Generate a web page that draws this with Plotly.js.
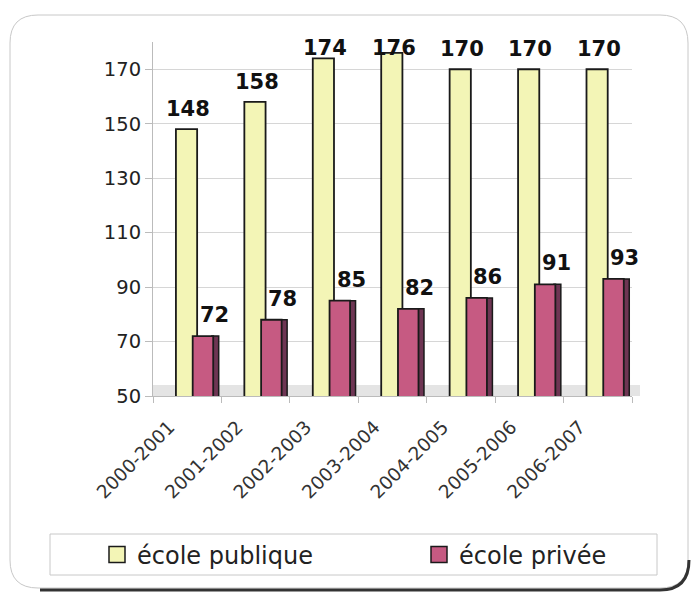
<!DOCTYPE html>
<html>
<head>
<meta charset="utf-8">
<script src="https://cdn.plot.ly/plotly-3.0.1.min.js"></script>
<style>html,body{margin:0;padding:0;background:#fff;}#chart{width:693px;height:596px;}</style>
</head>
<body>
<div id="chart"></div>
<script>
// ---- data ----
const categories = ["2000-2001","2001-2002","2002-2003","2003-2004","2004-2005","2005-2006","2006-2007"];
const ecolePublique = [148,158,174,176,170,170,170];
const ecolePrivee = [72,78,85,82,86,91,93];
const seriesNames = ["école publique","école privée"];
const yTicks = [50,70,90,110,130,150,170];

// ---- layout helpers (pixel -> paper) ----
const W = 693, H = 596;
const L = 153, R = 632, T = 42, B = 396;
const px = x => (x - L) / (R - L);
const py = y => (B - y) / (B - T);

const yellow = "#f3f5b6", pink = "#c65a82", pinkSide = "#6e3553", outline = "#1a1a1a";
const font = "DejaVu Sans, Verdana, sans-serif";
const labelCeiling = 170.5; // Excel keeps data labels inside the plot area

const traces = [
  {type:"bar", x:categories, y:ecolePublique, name:seriesNames[0], showlegend:false,
   width:0.31, offset:-0.165,
   marker:{color:yellow, line:{color:outline, width:1.8}}},
  {type:"bar", x:categories, y:ecolePrivee, name:seriesNames[1]+" (side)", showlegend:false,
   width:0.1, offset:0.36,
   marker:{color:pinkSide, line:{color:outline, width:1.5}}},
  {type:"bar", x:categories, y:ecolePrivee, name:seriesNames[1], showlegend:false,
   width:0.3, offset:0.08,
   marker:{color:pink, line:{color:outline, width:1.8}}},
  {type:"scatter", mode:"markers", x:[null], y:[null], name:seriesNames[0], legend:"legend",
   marker:{symbol:"square", size:16, color:yellow, line:{color:outline, width:1.5}}},
  {type:"scatter", mode:"markers", x:[null], y:[null], name:seriesNames[1], legend:"legend2",
   marker:{symbol:"square", size:16, color:pink, line:{color:outline, width:1.5}}}
];

const labelFont = {family:font, size:21, color:"#111", weight:"bold"};
const annotations = [];
categories.forEach((c,i)=>{
  annotations.push({x:c, y:Math.min(ecolePublique[i], labelCeiling), xref:"x", yref:"y",
    text:String(ecolePublique[i]), showarrow:false, font:labelFont,
    xshift:1, yshift:20});
  annotations.push({x:c, y:Math.min(ecolePrivee[i], labelCeiling), xref:"x", yref:"y",
    text:String(ecolePrivee[i]), showarrow:false, font:labelFont,
    xshift:27, yshift:21});
});

// rounded card path in paper coords
function P2(x,y){return px(x)+","+py(y);}
function roundRect(x0,y0,x1,y1,r){
  return "M"+P2(x0+r,y0)+" L"+P2(x1-r,y0)+" Q"+P2(x1,y0)+" "+P2(x1,y0+r)+
         " L"+P2(x1,y1-r)+" Q"+P2(x1,y1)+" "+P2(x1-r,y1)+
         " L"+P2(x0+r,y1)+" Q"+P2(x0,y1)+" "+P2(x0,y1-r)+
         " L"+P2(x0,y0+r)+" Q"+P2(x0,y0)+" "+P2(x0+r,y0)+" Z";
}

const legendCommon = {orientation:"h", xref:"container", yref:"container", y:0.069,
  xanchor:"left", yanchor:"middle", bgcolor:"rgba(0,0,0,0)",
  font:{family:font, size:24, color:"#222"}};

const layout = {
  width:W, height:H,
  margin:{l:L, r:W-R, t:T, b:H-B, autoexpand:false},
  paper_bgcolor:"#fff", plot_bgcolor:"rgba(0,0,0,0)",
  barmode:"overlay",
  font:{family:font, color:"#222"},
  xaxis:{type:"category", range:[-0.5, categories.length-0.5],
         tickangle:-45, tickfont:{family:font, size:18.5, color:"#333"},
         showline:true, linecolor:"#bbb", ticks:"outside", tickson:"boundaries",
         ticklen:6, tickcolor:"#bbb", showgrid:false, fixedrange:true, automargin:false,
         ticklabelshift:-18, ticklabelstandoff:12},
  yaxis:{range:[50,180], tickvals:yTicks, ticktext:yTicks.map(String),
         tickfont:{family:font, size:19.5, color:"#222"}, automargin:false,
         showline:true, linecolor:"#bbb", ticks:"outside", ticklen:7, tickcolor:"#bbb",
         gridcolor:"#d6d6d6", gridwidth:1, zeroline:false, fixedrange:true},
  legend:Object.assign({}, legendCommon, {x:97/W}),
  legend2:Object.assign({}, legendCommon, {x:419/W}),
  annotations:annotations,
  shapes:[
    {type:"path", xref:"paper", yref:"paper", path:roundRect(10,15,688,588,28),
     line:{color:"#c8c8c8", width:1}, fillcolor:"rgba(0,0,0,0)", layer:"below"},
    {type:"path", xref:"paper", yref:"paper",
     path:"M"+P2(40,590)+" L"+P2(660,590)+" Q"+P2(689,590)+" "+P2(689,560),
     line:{color:"#333", width:3}},
    {type:"rect", xref:"paper", yref:"y", x0:px(153), x1:px(640), y0:50, y1:54,
     fillcolor:"#e4e4e4", line:{width:0}, layer:"below"},
    {type:"rect", xref:"paper", yref:"paper", x0:px(50), x1:px(657), y0:py(534), y1:py(575),
     line:{color:"#c8c8c8", width:1}, fillcolor:"rgba(0,0,0,0)"}
  ]
};

Plotly.newPlot("chart", traces, layout, {displayModeBar:false, staticPlot:true});
</script>
</body>
</html>
